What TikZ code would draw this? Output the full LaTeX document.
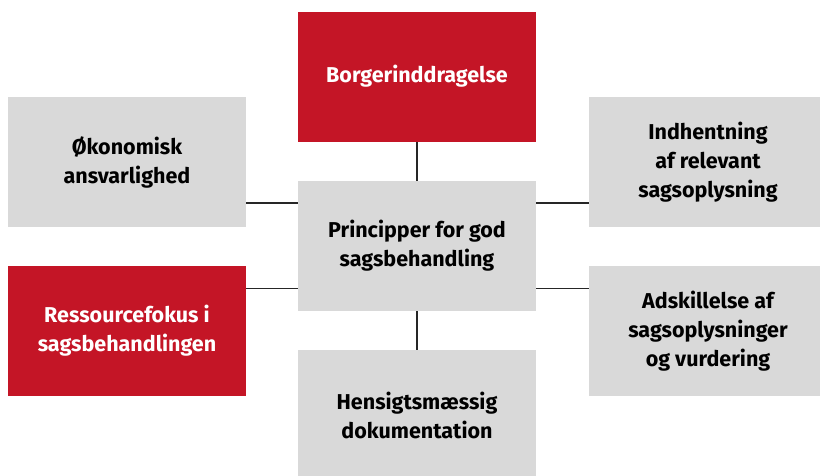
\documentclass[tikz,border=0pt]{standalone}
\usepackage{fontspec}
\setmainfont{Fira Sans}
\usetikzlibrary{positioning}

\definecolor{tilered}{HTML}{C41526}
\definecolor{tilegray}{HTML}{D9D9D9}

\tikzset{
	tile/.style={minimum width=238pt, minimum height=130pt, inner sep=0pt, align=center, font=\bfseries\fontsize{21.5}{29}\selectfont},
	redtile/.style={tile, fill=tilered, text=white},
	graytile/.style={tile, fill=tilegray, text=black},
	link/.style={draw=black!85, line width=1.4pt}
}

\begin{document}
\begin{tikzpicture}[x=1pt, y=-1pt]
	\useasboundingbox (0,0) rectangle (820,475);
	\clip (0,0) rectangle (820,475);

	\node[graytile] (center) at (417,246) {Principper for god\\sagsbehandling};
	\node[redtile] (borger) [above=39pt of center] {Borgerinddragelse};
	\node[graytile] (doku) [below=39pt of center] {Hensigtsmæssig\\dokumentation};

	\node[graytile] (oekonomi) at (127,162) {Økonomisk\\ansvarlighed};
	\node[redtile] (ressource) at (127,331) {Ressourcefokus i\\sagsbehandlingen};
	\node[graytile] (indhent) at (708,162) {Indhentning\\af relevant\\sagsoplysning};
	\node[graytile] (adskil) at (708,331) {Adskillelse af\\sagsoplysninger\\og vurdering};

	\coordinate (upper) at ([yshift=-22pt]center.north);
	\coordinate (lower) at ([yshift=23pt]center.south);

	\path[link] (borger) -- (center);
	\path[link] (center) -- (doku);
	\path[link] (center.west |- upper) -- (oekonomi.east |- upper);
	\path[link] (center.west |- lower) -- (ressource.east |- lower);
	\path[link] (center.east |- upper) -- (indhent.west |- upper);
	\path[link] (center.east |- lower) -- (adskil.west |- lower);

\end{tikzpicture}
\end{document}
